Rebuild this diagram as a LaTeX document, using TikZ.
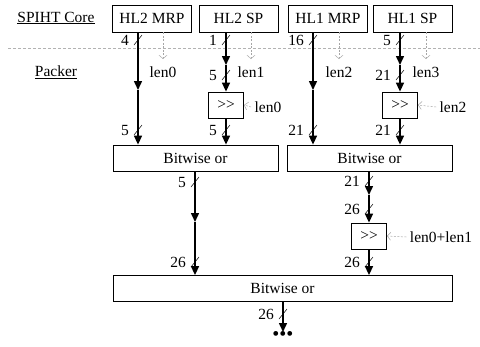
\documentclass[tikz,border=0pt]{standalone}
\usepackage{fontspec}
\setmainfont{Liberation Serif}
\newfontfamily\tms{Liberation Serif}
\usetikzlibrary{arrows.meta}

\tikzset{
  blk/.style={draw, line width=0.8pt, minimum height=27pt, inner sep=0pt},
  bus/.style={line width=1.5pt, -{Triangle[length=9pt,width=8pt]}},
  ctl/.style={draw=gray!70, line width=0.5pt, dash pattern=on 2pt off 1.5pt,
    -{Straight Barb[length=3.5pt,width=8pt]}},
  sep/.style={draw=gray!60, line width=0.5pt, dash pattern=on 3pt off 2pt},
  tag/.style={inner sep=1pt}
}
\newcommand{\bwidth}[2]{%
  \draw[line width=0.5pt] (#1) ++(-4,5) -- ++(8,-10);
  \node[tag, anchor=east] at ([xshift=-8pt]#1) {#2};}

\begin{document}
\begin{tikzpicture}[x=1pt,y=-1pt,font=\tms\fontsize{15.5}{18}\selectfont]
        \useasboundingbox (0,0) rectangle (480,346);

        \node (core) at (56,18) {\underline{SPIHT Core}};
        \node (pack) at (56,72) {\underline{Packer}};

        \begin{scope}[every node/.style={blk, minimum width=79pt}]
          \node (mrp2) at (152,18.5)   {HL2 MRP};
          \node (sp2)  at (238.5,18.5) {HL2 SP};
          \node (mrp1) at (328,18.5)   {HL1 MRP};
          \node (sp1)  at (412.5,18.5) {HL1 SP};
        \end{scope}

        \coordinate (l) at (8,48);
        \coordinate (r) at (480,48);
        \draw[sep] (l) -- (r);

        \begin{scope}[every node/.style={blk, minimum width=35pt, minimum height=26pt}]
          \node (sh2) at (226,105) {>{}>};
          \node (sh1) at (400,105) {>{}>};
          \node (sh3) at (369,236) {>{}>};
        \end{scope}

        \begin{scope}[every node/.style={blk, minimum height=26pt}]
          \node[minimum width=165pt] (or1) at (195.5,158)  {Bitwise or};
          \node[minimum width=165pt] (or2) at (369.5,158)  {Bitwise or};
          \node[minimum width=339pt] (or3) at (282.5,288.5) {Bitwise or};
        \end{scope}

        \node (len0)  at (163,72)  {len0};
        \node (len1)  at (251,72)  {len1};
        \node (len2)  at (339,72)  {len2};
        \node (len3)  at (426,72)  {len3};
        \node (len0b) at (268,107) {len0};
        \node (len2b) at (453,107) {len2};
        \node (len01) at (441,237) {len0+len1};
        \node[inner sep=0pt, font=\tms\fontsize{20}{20}\selectfont] (dots) at (283,336) {\textbullet\textbullet\textbullet};

        \begin{scope}[shorten >=4pt]
          \draw[ctl] (mrp2.south -| len0) -- (len0.north);
          \draw[ctl] (sp2.south -| len1)  -- (len1.north);
          \draw[ctl] (mrp1.south -| len2) -- (len2.north);
          \draw[ctl] (sp1.south -| len3)  -- (len3.north);
        \end{scope}
        \draw[ctl] (len0b.west) -- (sh2.east);
        \draw[ctl] (len2b.west) -- (sh1.east);
        \draw[ctl] (len01.west) -- (sh3.east);

        \coordinate (a1) at (138,90);
        \coordinate (b1) at (226,65);
        \coordinate (c1) at (313,90);
        \coordinate (d1) at (400,65);
        \coordinate (e1) at (195,222);
        \coordinate (f1) at (369,195);
        \coordinate (g1) at (283,332);

        \draw[bus] (mrp2.south -| a1) -- (a1);
        \draw[bus] (a1) -- (a1 |- or1.north);
        \draw[bus] (sp2.south -| b1) -- (b1);
        \draw[bus] (b1) -- (sh2.north);
        \draw[bus] (sh2.south) -- (sh2.south |- or1.north);
        \draw[bus] (mrp1.south -| c1) -- (c1);
        \draw[bus] (c1) -- (c1 |- or2.north);
        \draw[bus] (sp1.south -| d1) -- (d1);
        \draw[bus] (d1) -- (sh1.north);
        \draw[bus] (sh1.south) -- (sh1.south |- or2.north);
        \draw[bus] (or1.south -| e1) -- (e1);
        \draw[bus] (e1) -- (e1 |- or3.north);
        \draw[bus] (or2.south -| f1) -- (f1);
        \draw[bus] (f1) -- (sh3.north);
        \draw[bus] (sh3.south) -- (sh3.south |- or3.north);
        \draw[bus] (or3.south -| g1) -- (g1);

        \bwidth{138,40}{4}
        \bwidth{226,40}{1}
        \bwidth{313,40}{16}
        \bwidth{400,40}{5}
        \bwidth{226,75}{5}
        \bwidth{400,75}{21}
        \bwidth{138,130}{5}
        \bwidth{226,130}{5}
        \bwidth{313,130}{21}
        \bwidth{400,130}{21}
        \bwidth{195,182}{5}
        \bwidth{369,181}{21}
        \bwidth{369,209}{26}
        \bwidth{195,262}{26}
        \bwidth{369,262}{26}
        \bwidth{283,314}{26}

\end{tikzpicture}
\end{document}
